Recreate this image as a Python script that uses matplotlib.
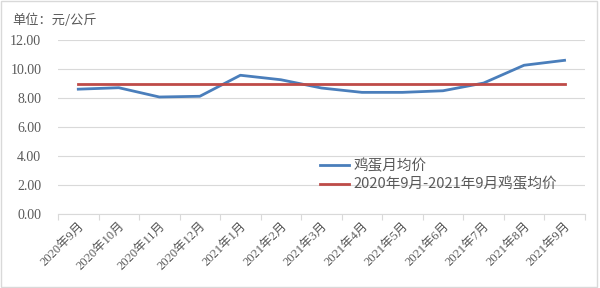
import matplotlib
matplotlib.use("Agg")
import matplotlib.pyplot as plt
from matplotlib.patches import Rectangle

plt.rcParams['font.family'] = ['Noto Sans CJK SC', 'DejaVu Sans']

months = ["2020年9月", "2020年10月", "2020年11月", "2020年12月", "2021年1月", "2021年2月",
          "2021年3月", "2021年4月", "2021年5月", "2021年6月", "2021年7月", "2021年8月", "2021年9月"]
monthly_price = [8.63, 8.73, 8.09, 8.14, 9.59, 9.28, 8.71, 8.41, 8.41, 8.52, 9.05, 10.28, 10.62]
avg_price = [8.96] * len(months)
yticks = [0, 2, 4, 6, 8, 10, 12]
series_names = ["鸡蛋月均价", "2020年9月-2021年9月鸡蛋均价"]

serif = ['Liberation Serif', 'Noto Sans CJK SC']

fig = plt.figure(figsize=(6, 2.88), dpi=100)
ax = fig.add_axes([0.0967, 0.256, 0.878, 0.604])

x = list(range(len(months)))
ax.plot(x, monthly_price, color="#4A7EBB", lw=2.0, label=series_names[0], solid_joinstyle='round')
ax.plot(x, avg_price, color="#BE4B48", lw=2.0, label=series_names[1])

ax.set_xlim(-0.5, len(months) - 0.5)
ax.set_ylim(0, 12)
ax.set_yticks(yticks)
ax.set_yticklabels([f"{v:.2f}" for v in yticks])
for lbl in ax.get_yticklabels():
    lbl.set_fontfamily(serif)
    lbl.set_fontsize(10)
    lbl.set_color("#595959")
ax.yaxis.grid(True, color="#D9D9D9", lw=0.8)
ax.set_axisbelow(True)
ax.tick_params(axis='y', length=0, pad=12)

ax.set_xticks([i - 0.5 for i in range(len(months) + 1)])
ax.set_xticklabels([])
ax.set_xticks(x, minor=True)
ax.set_xticklabels(months, minor=True, rotation=45, ha='right', rotation_mode='anchor')
for lbl in ax.get_xticklabels(minor=True):
    lbl.set_fontfamily(serif)
    lbl.set_fontsize(9)
    lbl.set_color("#595959")
ax.tick_params(axis='x', which='major', length=4, color="#D9D9D9", width=0.8)
ax.tick_params(axis='x', which='minor', length=0, pad=4)

for s in ["top", "right", "left"]:
    ax.spines[s].set_visible(False)
ax.spines["bottom"].set_color("#D9D9D9")
ax.spines["bottom"].set_linewidth(0.8)

leg = fig.legend(loc='center left', bbox_to_anchor=(0.533, 0.392), bbox_transform=fig.transFigure,
                 frameon=False, fontsize=10.5, handlelength=2.0, handletextpad=0.3,
                 labelspacing=0.3, borderpad=0, borderaxespad=0)
for t in leg.get_texts():
    t.set_color("#595959")

fig.text(0.021, 0.93, "单位：元/公斤", fontsize=9.5, color="#595959", va='center')

fig.patches.append(Rectangle((0.001, 0.003), 0.994, 0.995, transform=fig.transFigure,
                             fill=False, edgecolor="#D9D9D9", lw=1.0))

fig.savefig("out.png", dpi=100)
